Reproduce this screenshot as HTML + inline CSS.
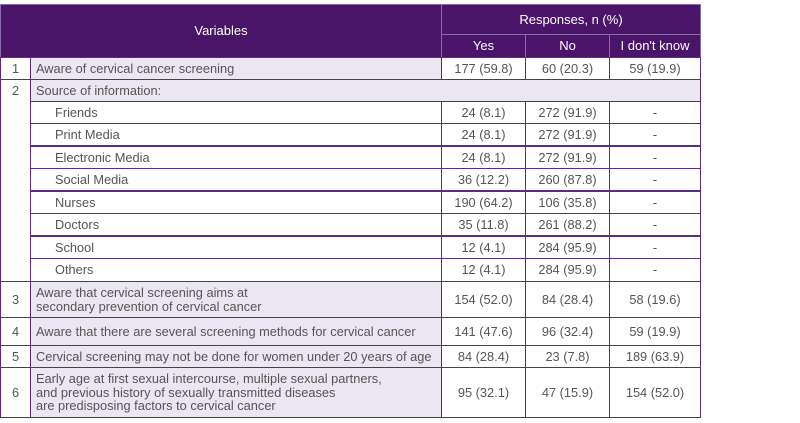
<!DOCTYPE html>
<html><head><meta charset="utf-8"><style>
body{margin:0;width:800px;height:423px;background:#fff;position:relative;font-family:"Liberation Sans",sans-serif;font-size:12.8px;color:#555;overflow:hidden}
.c{position:absolute;box-sizing:border-box;border:1px solid #5b2c86;display:flex;align-items:center;line-height:13.5px;white-space:nowrap}
.h{background:#4a1468;color:#fff;justify-content:center;font-size:13px;border-color:#8a6aa8}
.l{background:#ece6f2}
.w{background:#fff}
.ctr{justify-content:center;text-align:center}
.pad{padding-left:5px}
.sub{padding-left:24px}
</style></head><body>
<div class="c h" style="left:0;top:4px;width:442px;height:54px">Variables</div>
<div class="c h" style="left:441px;top:4px;width:260px;height:31px">Responses, n (%)</div>
<div class="c h" style="left:441px;top:34px;width:85px;height:24px">Yes</div>
<div class="c h" style="left:525px;top:34px;width:85px;height:24px">No</div>
<div class="c h" style="left:609px;top:34px;width:92px;height:24px">I don't know</div>
<div id="rows"></div>
<script>
var R=[
["1","Aware of cervical cancer screening","177 (59.8)","60 (20.3)","59 (19.9)",57,80],
["2","Source of information:",null,null,null,79,102],
["","Friends","24 (8.1)","272 (91.9)","-",101,124],
["","Print Media","24 (8.1)","272 (91.9)","-",123,146],
["","Electronic Media","24 (8.1)","272 (91.9)","-",146,169],
["","Social Media","36 (12.2)","260 (87.8)","-",168,191],
["","Nurses","190 (64.2)","106 (35.8)","-",191,214],
["","Doctors","35 (11.8)","261 (88.2)","-",213,236],
["","School","12 (4.1)","284 (95.9)","-",236,259],
["","Others","12 (4.1)","284 (95.9)","-",258,282],
["3","Aware that cervical screening aims at<br>secondary prevention of cervical cancer","154 (52.0)","84 (28.4)","58 (19.6)",281,318],
["4","Aware that there are several screening methods for cervical cancer","141 (47.6)","96 (32.4)","59 (19.9)",317,346],
["5","Cervical screening may not be done for women under 20 years of age","84 (28.4)","23 (7.8)","189 (63.9)",345,368],
["6","Early age at first sexual intercourse, multiple sexual partners,<br>and previous history of sexually transmitted diseases<br>are predisposing factors to cervical cancer","95 (32.1)","47 (15.9)","154 (52.0)",367,418]];
var h="";
R.forEach(function(r){var t=r[5],H=r[6]-r[5];
 var sub=r[0]===""&&r[2]!==null;
 if(!sub) h+='<div class="c ctr w" style="left:0;top:'+t+'px;width:31px;height:'+H+'px">'+r[0]+'</div>';
 else h+='<div class="c w" style="left:0;top:'+t+'px;width:31px;height:'+H+'px;border-top:none;border-bottom:none"></div>';
 if(r[2]===null){h+='<div class="c l pad" style="left:30px;top:'+t+'px;width:671px;height:'+H+'px">'+r[1]+'</div>';return;}
 h+='<div class="c '+(sub?'w sub':'l pad')+'" style="left:30px;top:'+t+'px;width:412px;height:'+H+'px">'+r[1]+'</div>';
 h+='<div class="c w ctr" style="left:441px;top:'+t+'px;width:85px;height:'+H+'px">'+r[2]+'</div>';
 h+='<div class="c w ctr" style="left:525px;top:'+t+'px;width:85px;height:'+H+'px">'+r[3]+'</div>';
 h+='<div class="c w ctr" style="left:609px;top:'+t+'px;width:92px;height:'+H+'px">'+r[4]+'</div>';
});
document.getElementById("rows").innerHTML=h;
</script>
</body></html>
